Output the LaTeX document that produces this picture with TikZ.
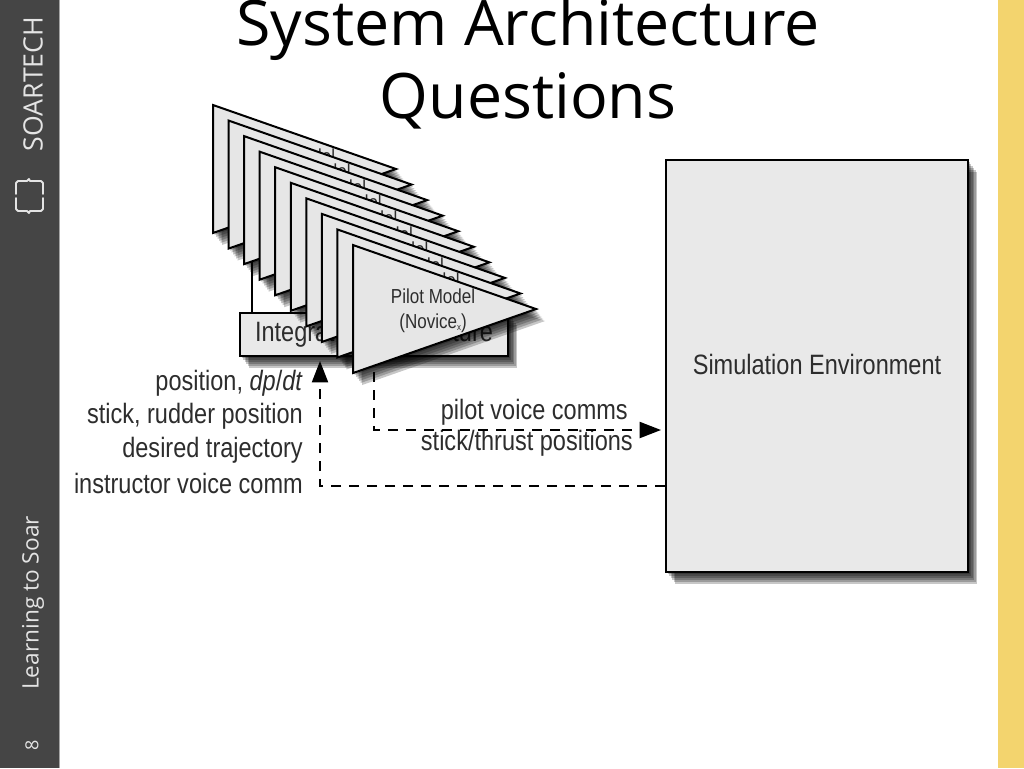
\documentclass[tikz,border=0pt]{standalone}
\usepackage{fontspec}
\setmainfont{Open Sans}
\newfontfamily\diag[FakeStretch=0.84]{Liberation Sans}
\usetikzlibrary{arrows.meta}
\definecolor{barL}{RGB}{69,69,69}
\definecolor{barTxt}{RGB}{228,228,228}
\definecolor{barY}{RGB}{243,212,110}
\definecolor{boxF}{RGB}{233,233,233}
\definecolor{triF}{RGB}{230,230,230}
\definecolor{dtxt}{RGB}{45,45,45}
\tikzset{
  shadlayer/.style={fill=black,opacity=0.22},
  boxstyle/.style={draw=black,line width=1.5pt,fill=boxF},
  tristyle/.style={draw=black,line width=1.5pt,fill=triF},
  lbl/.style={font=\diag\fontsize{21pt}{24pt}\selectfont,text=dtxt,inner sep=0pt},
  pmtxt/.style={font=\diag\fontsize{15.2pt}{18.75pt}\selectfont,text=dtxt,align=center,inner sep=0pt},
  dashline/.style={line width=1.5pt,dash pattern=on 7.5pt off 6pt},
  tipA/.style={-{Triangle[length=16pt,width=12pt,fill=black]}},
  bartxt/.style={text=barTxt,rotate=90,inner sep=0pt},
}
\begin{document}
\begin{tikzpicture}[x=0.75pt,y=-0.75pt]
\useasboundingbox (0,0) rectangle (1024,768);
\fill[white] (0,0) rectangle (1024,768);
% side bars
\fill[barL] (0,0) rectangle (59,768);
\draw[gray!70,line width=0.8pt] (59.5,0) -- (59.5,768);
\fill[barY] (998,0) rectangle (1024,768);
\node[bartxt,font=\fontsize{20pt}{20pt}\selectfont] (soar) at (33,84) {SOARTECH};
\draw[barTxt,line width=1.4pt,line join=round,line cap=round]
  (16,194) -- (16,183) -- (18,181) -- (27,181) -- (29,179) -- (30,181) -- (41,181) -- (43,183) -- (43,194);
\draw[barTxt,line width=1.4pt,line join=round,line cap=round]
  (16,198) -- (16,209) -- (18,211) -- (27,211) -- (29,213) -- (30,211) -- (41,211) -- (43,209) -- (43,198);
\node[bartxt,font=\fontsize{17pt}{18pt}\selectfont] (lts) at (33,603) {Learning to Soar};
\node[bartxt,font=\fontsize{13.5pt}{14pt}\selectfont] (pg) at (32,745) {8};
% title
\node[font=\fontsize{47pt}{50pt}\selectfont,anchor=base,inner sep=0pt] (t1) at (528,45) {System Architecture};
\node[font=\fontsize{47pt}{50pt}\selectfont,anchor=base,inner sep=0pt] (t2) at (528,118) {Questions};
% simulation environment
\foreach \k in {1,...,6}{
  \fill[shadlayer] (666+1.5*\k,160+2*\k) rectangle (968+1.5*\k,572+2*\k);
}
\node[boxstyle,minimum width=302*0.75pt,minimum height=412*0.75pt,inner sep=0pt] (sim) at (817,366) {};
\node[lbl] (simtxt) at (817,364) {Simulation Environment};
% integrated architecture
\draw[line width=1.5pt] (252,262) -- (252,313);
\foreach \k in {1,...,6}{
  \fill[shadlayer] (240+1.5*\k,313+2*\k) rectangle (508+1.5*\k,356+2*\k);
}
\node[boxstyle,minimum width=268*0.75pt,minimum height=43*0.75pt,inner sep=0pt] (ia) at (374,334.5) {};
\node[lbl] (iatxt) at (374,334) {Integrated Architecture};
% pilot model stack
\foreach \i in {0,...,9}{
  \pgfmathsetmacro{\xx}{213+15.56*\i}
  \pgfmathsetmacro{\yy}{105+15.56*\i}
  \foreach \k in {1,...,6}{
    \fill[shadlayer] (\xx+1.5*\k,\yy+2*\k) -- (\xx+183+1.5*\k,\yy+64+2*\k) -- (\xx+1.5*\k,\yy+128+2*\k) -- cycle;
  }
  \draw[tristyle] (\xx,\yy) -- (\xx+183,\yy+64) -- (\xx,\yy+128) -- cycle;
  \node[pmtxt] (pm\i) at (\xx+80,\yy+65.5) {Pilot Model\\(Novice\raisebox{-1.5pt}{\fontsize{7pt}{7pt}\selectfont x})};
}
% labels left
\node[lbl,anchor=east] (l1) at (303,383) {position, \textit{dp}/\textit{dt}};
\node[lbl,anchor=east] (l2) at (303,416) {stick, rudder position};
\node[lbl,anchor=east] (l3) at (303,450) {desired trajectory};
\node[lbl,anchor=east] (l4) at (303,483) {instructor voice comm};
% labels right
\node[lbl,anchor=east] (r1) at (628,412) {pilot voice comms};
\node[lbl,anchor=east] (r2) at (633,443) {stick/thrust positions};
% connectors
\coordinate (c1) at (320,486);
\draw[dashline,tipA,shorten >=3pt] (sim.west |- c1) -- (c1) -- (ia.south -| c1);
\coordinate (p0) at (374,372);
\coordinate (c2) at (374,430);
\draw[dashline,tipA,shorten >=3pt] (p0) -- (c2) -- (sim.west |- c2);
\end{tikzpicture}
\end{document}
